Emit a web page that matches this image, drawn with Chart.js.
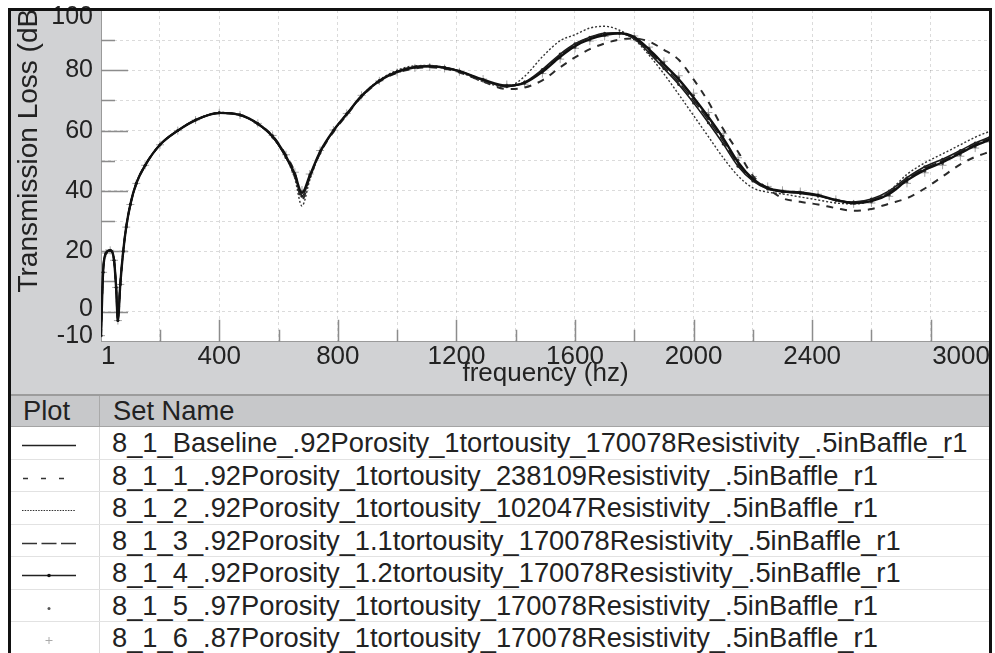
<!DOCTYPE html>
<html>
<head>
<meta charset="utf-8">
<script src="https://cdn.jsdelivr.net/npm/chart.js@4/dist/chart.umd.min.js"></script>
<style>
  html, body { margin: 0; padding: 0; background: #fff; width: 995px; height: 653px; overflow: hidden;
    font-family: "Liberation Sans", Arial, Helvetica, sans-serif; }
  #plot { position: absolute; left: 0; top: 0; width: 995px; height: 395px; }
  #frame { position: absolute; left: 8px; top: 8px; width: 978px; height: 700px;
    border: 3px solid #111; border-bottom: none; pointer-events: none; z-index: 5; }
  #table { position: absolute; left: 11px; top: 395px; width: 978px; height: 258px; background: #fff; }
  .hdr { position: absolute; left: 0; top: 0; width: 978px; height: 32px; background: #c7c8ca;
    border-top: 1px solid #9c9c9c; border-bottom: 1px solid #a4a4a4; box-sizing: border-box; }
  .row { position: absolute; left: 0; width: 978px; height: 32.5px; border-bottom: 1px solid #e2e2e2; box-sizing: border-box; }
  .cell { position: absolute; top: 0; height: 100%; display: flex; align-items: center;
    font-size: 27.3px; color: #222; white-space: nowrap; }
  .divider { position: absolute; left: 88px; top: 0; width: 1px; height: 100%; background: #dadada; }
  .hdr .divider { background: #a9a9a9; }
  svg { position: absolute; left: 0; top: 0; }
</style>
</head>
<body>
<div id="plot"><canvas id="chart"></canvas></div>
<div id="table"></div>
<div id="frame"></div>
<script>
// Frequency samples (Hz) shared by every set
const freqHz = [1, 8, 18, 32, 45, 52, 58, 66, 76, 86,
  100, 120, 150, 200, 260, 320, 400, 470, 530, 580,
  625, 655, 679, 705, 740, 785, 830, 880, 940, 1000,
  1060, 1110, 1160, 1210, 1290, 1370, 1430, 1490, 1550, 1600,
  1650, 1700, 1750, 1800, 1850, 1900, 1950, 2000, 2050, 2100,
  2150, 2200, 2250, 2300, 2360, 2420, 2480, 2540, 2600, 2660,
  2720, 2780, 2840, 2900, 2950, 3000];

// Transmission loss (dB) for each set
const tlBaseline = [-8, 13, 19.4, 20.3, 17, 8, -3, 9, 20, 28,
  35.5, 42.5, 48.5, 55.3, 60, 63.5, 65.9, 65.2, 62.3, 58.1,
  51.5, 45.5, 39.3, 45, 53, 60, 65.5, 71.5, 76.5, 79.5,
  81, 81.3, 80.8, 79.7, 76.9, 74.9, 75.8, 79.5, 84.5, 88,
  90.3, 91.7, 92.3, 91, 86.9, 82, 77, 71, 64.5, 57.5,
  49.5, 44, 41, 39.9, 39.5, 38.6, 37, 36, 36.6, 39,
  43.5, 47, 49.5, 52.5, 55, 57];
const tlSet1 = [-8, 13, 19.4, 20.3, 17, 8, -3, 9, 20, 28,
  35.5, 42.5, 48.5, 55.3, 60, 63.5, 65.8, 65.1, 62.3, 58.3,
  51.8, 46, 37, 44.5, 52.5, 59.6, 65.2, 71.2, 76.2, 79.2,
  80.6, 81, 80.5, 79.3, 76.3, 73.8, 74.3, 76.7, 81, 84.3,
  87, 88.9, 90.2, 90.6, 89.5, 86.8, 83.5, 77, 69.5, 60.5,
  53, 45, 40.8, 37.6, 36.4, 35.5, 34.3, 33.4, 34, 35.8,
  37.6, 40.8, 44.8, 48.8, 51.3, 53];
const tlSet2 = [-8, 13, 19.4, 20.3, 17, 8, -3, 9, 20, 28,
  35.5, 42.5, 48.5, 55.3, 60, 63.5, 66, 65.3, 62.2, 57.8,
  51, 44, 35, 43.5, 52.5, 60, 65.6, 71.6, 76.8, 80,
  81.5, 81.6, 81, 79.5, 76.2, 74.5, 78, 84.5, 89.8, 91.8,
  94, 94.6, 93.3, 90.3, 85, 78.8, 72, 65, 58, 51,
  45, 41, 39.6, 39, 38, 37, 36, 35.7, 36.8, 40,
  45.5, 49.3, 52.3, 55.3, 57.8, 59.8];
const tlSet3 = [-8, 13, 19.4, 20.3, 17, 8, -3, 9, 20, 28,
  35.5, 42.5, 48.5, 55.3, 60, 63.5, 65.9, 65.2, 62.3, 58,
  51.3, 45.2, 38.6, 44.8, 52.8, 59.9, 65.4, 71.4, 76.5, 79.6,
  81.1, 81.4, 80.9, 79.7, 76.8, 74.7, 75.9, 79.9, 85, 88.5,
  90.8, 92, 92.3, 90.6, 86.2, 81.2, 76, 70, 63.5, 56.5,
  48.8, 43.6, 40.8, 39.8, 39.4, 38.5, 37, 36.2, 37, 39.5,
  44, 47.5, 50, 53, 55.5, 57.5];
const tlSet4 = [-8, 13, 19.4, 20.3, 17, 8, -3, 9, 20, 28,
  35.5, 42.5, 48.5, 55.3, 60, 63.5, 65.9, 65.2, 62.2, 57.9,
  51.1, 45, 38.2, 44.6, 52.7, 59.9, 65.4, 71.4, 76.6, 79.7,
  81.2, 81.5, 81, 79.8, 76.7, 74.6, 76.1, 80.3, 85.4, 88.8,
  91, 92.3, 92.4, 90.4, 85.8, 80.6, 75.3, 69.2, 62.6, 55.6,
  48.2, 43.3, 40.6, 39.7, 39.2, 38.3, 36.9, 36.3, 37.3, 40,
  44.4, 48, 50.5, 53.4, 55.9, 57.9];
const tlSet5 = [-8, 13, 19.4, 20.3, 17, 8, -3, 9, 20, 28,
  35.5, 42.5, 48.5, 55.3, 60, 63.5, 65.9, 65.2, 62.4, 58.3,
  51.8, 45.8, 39.8, 45.3, 53.2, 60.1, 65.6, 71.6, 76.5, 79.4,
  80.9, 81.2, 80.7, 79.6, 77, 75.1, 75.6, 79.2, 84.1, 87.6,
  90, 91.5, 92.2, 91.2, 87.3, 82.5, 77.6, 71.7, 65.2, 58.2,
  50.2, 44.4, 41.2, 40, 39.6, 38.7, 37, 35.8, 36.3, 38.6,
  43, 46.5, 49, 52, 54.6, 56.6];
const tlSet6 = [-8, 13, 19.4, 20.3, 17, 8, -3, 9, 20, 28,
  35.5, 42.5, 48.5, 55.3, 60, 63.5, 65.9, 65.2, 62.4, 58.4,
  52, 46.2, 40.3, 45.6, 53.4, 60.2, 65.7, 71.7, 76.5, 79.3,
  80.8, 81.1, 80.6, 79.5, 77.1, 75.3, 75.4, 78.9, 83.7, 87.3,
  89.7, 91.2, 92, 91.4, 87.7, 83, 78.2, 72.4, 66, 59,
  51, 44.8, 41.5, 40.2, 39.8, 38.9, 37.2, 35.7, 36, 38.2,
  42.5, 46, 48.5, 51.5, 54.2, 56.2];

const setNames = [
  '8_1_Baseline_.92Porosity_1tortousity_170078Resistivity_.5inBaffle_r1',
  '8_1_1_.92Porosity_1tortousity_238109Resistivity_.5inBaffle_r1',
  '8_1_2_.92Porosity_1tortousity_102047Resistivity_.5inBaffle_r1',
  '8_1_3_.92Porosity_1.1tortousity_170078Resistivity_.5inBaffle_r1',
  '8_1_4_.92Porosity_1.2tortousity_170078Resistivity_.5inBaffle_r1',
  '8_1_5_.97Porosity_1tortousity_170078Resistivity_.5inBaffle_r1',
  '8_1_6_.87Porosity_1tortousity_170078Resistivity_.5inBaffle_r1'
];

// Axis ticks and which of them carry a label
const xTicks = [1, 200, 400, 600, 800, 1000, 1200, 1400, 1600, 1800, 2000, 2200, 2400, 2600, 2800, 3000];
const xLabeled = [1, 400, 800, 1200, 1600, 2000, 2400, 3000];
const yTicks = [-10, 0, 10, 20, 30, 40, 50, 60, 70, 80, 90, 100];
const yLabeled = [-10, 0, 20, 40, 60, 80, 100];

const FONT = '"Liberation Sans", Arial, Helvetica, sans-serif';
const X_MIN = 1, X_MAX = 3000, Y_MIN = -10, Y_MAX = 100;

function pts(vals) { return freqHz.map((f, i) => ({ x: f, y: vals[i] })); }

// grey panel around a white plotting area
const panel = {
  id: 'panel',
  beforeDraw(chart) {
    const { ctx, chartArea: a } = chart;
    ctx.save();
    ctx.fillStyle = '#d1d2d4';
    ctx.fillRect(11, 11, 978, 384);
    ctx.fillStyle = '#ffffff';
    ctx.fillRect(a.left, a.top, a.right - a.left, a.bottom - a.top);
    ctx.fillStyle = '#9c9c9c';
    ctx.fillRect(11, 394, 978, 1);
    ctx.restore();
  }
};

// tick marks pointing into the plot, long at labelled steps
const innerTicks = {
  id: 'innerTicks',
  beforeDatasetsDraw(chart) {
    const { ctx, chartArea: a, scales: { x, y } } = chart;
    ctx.save();
    ctx.strokeStyle = '#8c8c8c';
    ctx.lineWidth = 1.5;
    ctx.beginPath();
    xTicks.forEach(v => {
      if (v <= X_MIN || v >= X_MAX) return;
      const px = Math.round(x.getPixelForValue(v)) + 0.5;
      const len = v % 400 === 0 ? 22 : 12;
      ctx.moveTo(px, a.bottom); ctx.lineTo(px, a.bottom - len);
    });
    yTicks.forEach(v => {
      if (v <= Y_MIN || v >= Y_MAX) return;
      const py = Math.round(y.getPixelForValue(v)) + 0.5;
      const len = v % 20 === 0 ? 27 : 14;
      ctx.moveTo(a.left, py); ctx.lineTo(a.left + len, py);
    });
    ctx.stroke();
    ctx.restore();
  }
};

// rotated y-axis title, clipped by the panel
const yTitle = {
  id: 'yTitle',
  afterDraw(chart) {
    const { ctx } = chart;
    ctx.save();
    ctx.beginPath();
    ctx.rect(11, 11, 90, 384);
    ctx.clip();
    ctx.translate(37, 146);
    ctx.rotate(-Math.PI / 2);
    ctx.font = '28px ' + FONT;
    ctx.fillStyle = '#222';
    ctx.textAlign = 'center';
    ctx.textBaseline = 'alphabetic';
    ctx.fillText('Transmission Loss (dB)', 0, 0);
    ctx.restore();
  }
};

const styles = [
  { borderColor: '#111', borderWidth: 2.4, pointRadius: 0 },
  { borderColor: '#2a2a2a', borderWidth: 2, borderDash: [7, 7], pointRadius: 0 },
  { borderColor: '#333', borderWidth: 1.4, borderDash: [2, 2], pointRadius: 0 },
  { borderColor: '#222', borderWidth: 1.6, borderDash: [12, 4], pointRadius: 0 },
  { borderColor: '#1a1a1a', borderWidth: 1.6, pointRadius: 1.5, pointBackgroundColor: '#222', pointBorderWidth: 0 },
  { showLine: false, pointRadius: 1.4, pointBackgroundColor: '#444', pointBorderWidth: 0 },
  { showLine: false, pointStyle: 'cross', pointRadius: 4, pointBorderColor: '#a3a3a3', pointBorderWidth: 1 }
];
const series = [tlBaseline, tlSet1, tlSet2, tlSet3, tlSet4, tlSet5, tlSet6];

new Chart(document.getElementById('chart'), {
  type: 'line',
  data: {
    datasets: series.map((vals, i) => Object.assign({
      label: setNames[i],
      data: pts(vals),
      fill: false,
      cubicInterpolationMode: 'monotone',
      pointHoverRadius: 0
    }, styles[i]))
  },
  options: {
    responsive: true,
    maintainAspectRatio: false,
    animation: false,
    events: [],
    layout: { padding: { left: 0, right: 4, top: 10, bottom: 0 } },
    plugins: { legend: { display: false }, tooltip: { enabled: false } },
    scales: {
      x: {
        type: 'linear', min: X_MIN, max: X_MAX,
        afterBuildTicks: s => { s.ticks = xTicks.map(v => ({ value: v })); },
        afterFit: s => { s.height = 53.3; s.paddingLeft = 0; s.paddingRight = 0; },
        ticks: {
          autoSkip: false, maxRotation: 0, align: 'inner', padding: 2, color: '#222',
          font: { family: FONT, size: 26, lineHeight: 1 },
          callback: v => xLabeled.includes(v) ? String(v) : ''
        },
        grid: { drawTicks: false, color: 'rgba(0,0,0,0.14)', lineWidth: 1 },
        border: { display: true, color: '#9a9a9a', width: 1, dash: [3, 3] },
        title: {
          display: true, text: 'frequency (hz)', color: '#222',
          font: { family: FONT, size: 26, lineHeight: 1 },
          padding: { top: 0, bottom: 8 }
        }
      },
      y: {
        type: 'linear', min: Y_MIN, max: Y_MAX,
        afterBuildTicks: s => { s.ticks = yTicks.map(v => ({ value: v })); },
        afterFit: s => { s.width = 101; s.paddingTop = 0; s.paddingBottom = 0; },
        ticks: {
          autoSkip: false, padding: 8, color: '#222',
          font: c => {
            const v = c.tick ? c.tick.value : null;
            let lh = 1.2;
            if (v === Y_MAX) lh = 0.6;
            else if (v === Y_MIN) lh = 0.45;
            else if (v === 0) lh = 0.2;
            return { family: FONT, size: 25, lineHeight: lh };
          },
          callback: v => {
            if (!yLabeled.includes(v)) return '';
            if (v === Y_MAX) return ['', String(v)];
            if (v === Y_MIN || v === 0) return [String(v), ''];
            return String(v);
          }
        },
        grid: { drawTicks: false, color: 'rgba(0,0,0,0.14)', lineWidth: 1 },
        border: { display: true, color: '#9a9a9a', width: 1, dash: [3, 3] }
      }
    }
  },
  plugins: [panel, innerTicks, yTitle]
});

// Set table beneath the plot: line sample + set name
const samples = [
  '<line x1="11" y1="18.5" x2="65" y2="18.5" stroke="#222" stroke-width="1.6"/>',
  '<line x1="12" y1="18.5" x2="56" y2="18.5" stroke="#333" stroke-width="1.6" stroke-dasharray="5 13"/>',
  '<line x1="11" y1="18.5" x2="65" y2="18.5" stroke="#333" stroke-width="1" stroke-dasharray="1.5 1.2"/>',
  '<line x1="11" y1="18.5" x2="65" y2="18.5" stroke="#333" stroke-width="1.6" stroke-dasharray="15 4.5"/>',
  '<line x1="11" y1="18.5" x2="65" y2="18.5" stroke="#222" stroke-width="1.6"/><circle cx="38" cy="18.5" r="1.8" fill="#111"/>',
  '<circle cx="38" cy="18.5" r="1.5" fill="#555"/>',
  '<line x1="34.5" y1="18.5" x2="41.5" y2="18.5" stroke="#aaa" stroke-width="1"/><line x1="38" y1="15" x2="38" y2="22" stroke="#aaa" stroke-width="1"/>'
];
const table = document.getElementById('table');
let html = '<div class="hdr"><div class="cell" style="left:12px">Plot</div>' +
  '<div class="cell" style="left:102px">Set Name</div><div class="divider"></div></div>';
setNames.forEach((name, i) => {
  const top = 32.3 + i * 32.5;
  html += '<div class="row" style="top:' + top + 'px">' +
    '<svg width="88" height="32">' + samples[i] + '</svg>' +
    '<div class="cell" style="left:101px">' + name + '</div><div class="divider"></div></div>';
});
table.innerHTML = html;
</script>
</body>
</html>
